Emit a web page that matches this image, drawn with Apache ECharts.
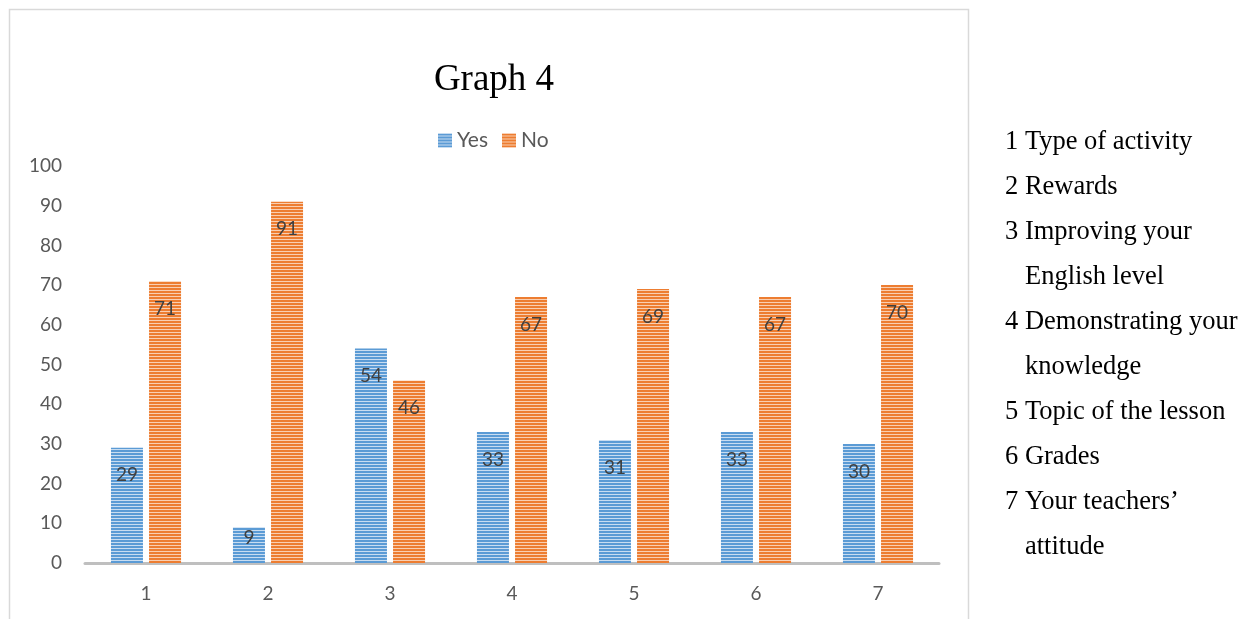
<!DOCTYPE html>
<html>
<head>
<meta charset="utf-8">
<script src="https://cdn.jsdelivr.net/npm/echarts@6/dist/echarts.min.js"></script>
<style>
  html, body { margin: 0; padding: 0; background: #ffffff; }
  #chart { width: 1256px; height: 619px; }
</style>
</head>
<body>
<div id="chart"></div>
<script>
// Survey answers per item (percent)
const categories = ['1', '2', '3', '4', '5', '6', '7'];
const yesValues = [29, 9, 54, 33, 31, 33, 30];
const noValues = [71, 91, 46, 67, 69, 67, 70];
const seriesNames = ['Yes', 'No'];
const titleText = 'Graph 4';
const itemNotes = [
  ['1 Type of activity'],
  ['2 Rewards'],
  ['3 Improving your', 'English level'],
  ['4 Demonstrating your', 'knowledge'],
  ['5 Topic of the lesson'],
  ['6 Grades'],
  ['7 Your teachers\u2019', 'attitude']
];

// Horizontal-stripe fill used for the bars and legend swatches
function stripes(base, light) {
  const c = document.createElement('canvas');
  c.width = 4; c.height = 3;
  const ctx = c.getContext('2d');
  ctx.fillStyle = base; ctx.fillRect(0, 0, 4, 2);
  ctx.fillStyle = light; ctx.fillRect(0, 2, 4, 1);
  return { image: c, repeat: 'repeat' };
}
const bluePattern = stripes('#5b9bd5', '#c9ddf1');
const orangePattern = stripes('#ed7d31', '#f9cfb2');

function barData(values) {
  // short bars keep their label closer to the top edge
  return values.map(v => v < 15 ? { value: v, label: { distance: 1 } } : v);
}

const sansFont = 'Lato, sans-serif';
const serifFont = '"Liberation Serif", "Times New Roman", serif';

const labelStyle = {
  show: true,
  position: 'insideTop',
  distance: 18,
  color: '#404040',
  fontFamily: sansFont,
  fontSize: 19
};

// Side notes explaining item numbers
const noteGraphics = [];
let line = 0;
itemNotes.forEach(lines => {
  lines.forEach((t, i) => {
    noteGraphics.push({
      type: 'text',
      left: i === 0 ? 1005 : 1025,
      top: 129 + line * 45,
      style: { text: t, fill: '#000000', font: '26.5px ' + serifFont }
    });
    line++;
  });
});

const chart = echarts.init(document.getElementById('chart'));
chart.setOption({
  backgroundColor: '#ffffff',
  animation: false,
  legend: {
    data: seriesNames,
    left: 438,
    top: 130,
    padding: 0,
    itemWidth: 14,
    itemHeight: 14,
    itemGap: 14,
    icon: 'rect',
    textStyle: { fontFamily: sansFont, fontSize: 21, color: '#595959', padding: [0, 0, 0, 0] }
  },
  grid: { left: 85, right: 317, top: 166, bottom: 56, containLabel: false },
  xAxis: {
    type: 'category',
    data: categories,
    axisLine: { lineStyle: { color: '#bfbfbf', width: 3 } },
    axisTick: { show: false },
    axisLabel: { fontFamily: sansFont, fontSize: 19, color: '#595959', margin: 21 }
  },
  yAxis: {
    type: 'value',
    min: 0,
    max: 100,
    interval: 10,
    axisLine: { show: false },
    axisTick: { show: false },
    splitLine: { show: false },
    axisLabel: { fontFamily: sansFont, fontSize: 19, color: '#595959', margin: 23 }
  },
  series: [
    {
      name: seriesNames[0],
      type: 'bar',
      data: barData(yesValues),
      barWidth: 32,
      barGap: '19%',
      itemStyle: { color: bluePattern },
      label: labelStyle
    },
    {
      name: seriesNames[1],
      type: 'bar',
      data: barData(noValues),
      barWidth: 32,
      barGap: '19%',
      itemStyle: { color: orangePattern },
      label: labelStyle
    }
  ],
  graphic: [
    {
      type: 'rect',
      shape: { x: 9.5, y: 9.5, width: 959, height: 640 },
      style: { fill: 'none', stroke: '#d9d9d9', lineWidth: 1.5 },
      silent: true
    },
    {
      type: 'text',
      x: 494,
      y: 80,
      style: {
        text: titleText,
        fill: '#000000',
        font: '37px ' + serifFont,
        textAlign: 'center',
        textVerticalAlign: 'middle'
      }
    }
  ].concat(noteGraphics)
});
</script>
</body>
</html>
